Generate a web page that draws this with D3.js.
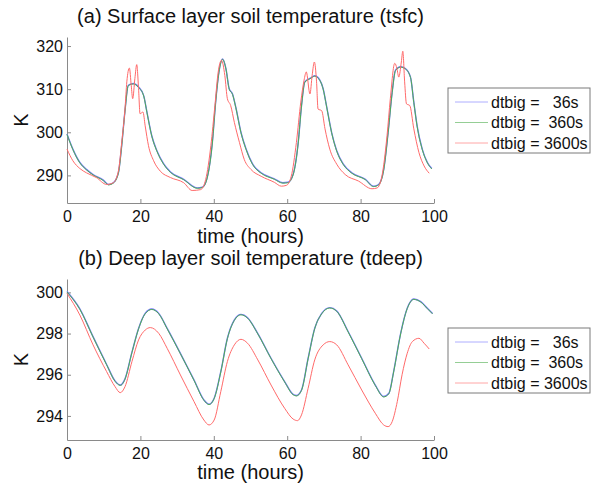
<!DOCTYPE html>
<html>
<head>
<meta charset="utf-8">
<script src="https://cdn.jsdelivr.net/npm/d3@7"></script>
<style>
  body { margin: 0; background: #fff; }
  text { font-family: "Liberation Sans", Arial, sans-serif; fill: #111; }
</style>
</head>
<body>
<script>
// SERIES NAMES (LEGEND)
const seriesNames = ["dtbig =   36s", "dtbig =  360s", "dtbig = 3600s"];
const seriesColors = ["#7878ff", "#4fae4f", "#ff6a6a"];

// TICKS
const xTicks = [0, 20, 40, 60, 80, 100];
const tsfcTicks = [290, 300, 310, 320];
const tdeepTicks = [294, 296, 298, 300];

// (a) SURFACE LAYER - dtbig 36s and 360s lie on top of each other
const tsfcTime36 = [0, 1.6, 3.5, 5.3, 7.1, 9.9, 11.3, 12.6, 14.0, 14.9, 15.8, 16.7, 18.1, 19.5, 20.9, 21.8, 23.1, 24.5, 26.4, 28.2,
  31.8, 35.5, 36.9, 38.2, 39.6, 40.5, 41.4, 42.4, 43.3, 44.2, 45.1, 46.0, 47.4, 48.8, 50.6, 52.9, 56.5, 58.8, 60.2, 61.6,
  63.0, 63.9, 64.8, 66.2, 67.5, 68.9, 69.8, 70.7, 72.1, 73.5, 75.3, 77.6, 81.3, 83.5, 84.9, 86.3, 87.5, 88.6, 89.5, 90.9,
  92.2, 93.6, 94.5, 95.4, 96.8, 98.2, 99.4];
const tsfc36 = [299.6, 296.1, 293.0, 291.4, 290.2, 288.9, 287.9, 288.3, 290.6, 296.9, 305.0, 310.9, 311.3, 310.5, 308.5, 304.6, 299.2, 295.7, 292.6, 290.8,
  289.1, 287.1, 287.3, 289.5, 297.6, 307.0, 314.0, 317.0, 314.8, 310.1, 308.9, 305.8, 300.0, 296.1, 292.6, 290.6, 289.2, 288.3, 288.4, 290.2,
  297.6, 306.2, 311.7, 312.5, 313.1, 312.1, 310.1, 306.2, 300.0, 295.7, 292.6, 290.6, 289.1, 287.5, 287.9, 291.4, 300.0, 309.3, 314.4, 315.2,
  314.8, 312.8, 307.0, 301.5, 296.1, 293.0, 291.6];
const tsfcTime360 = tsfcTime36;
const tsfc360 = tsfc36;

const tsfcTime3600 = [0, 1.6, 3.5, 5.3, 8.0, 10.8, 12.6, 14.0, 14.9, 15.8, 16.3, 17.0, 17.5, 17.9, 18.5, 19.0, 19.5, 19.9, 20.7, 21.3,
  22.2, 23.6, 25.4, 28.2, 31.8, 34.1, 36.4, 37.8, 39.2, 40.3, 41.2, 42.1, 43.0, 43.7, 44.6, 45.6, 47.0, 48.3, 50.1, 52.9,
  56.5, 58.4, 59.8, 61.1, 62.5, 63.7, 64.6, 65.2, 66.2, 66.8, 67.4, 68.0, 68.4, 69.4, 70.3, 71.6, 73.5, 75.8, 79.4, 83.1,
  84.5, 85.8, 87.2, 88.1, 89.3, 89.9, 90.4, 91.1, 91.5, 92.0, 92.5, 93.4, 94.5, 95.9, 97.3, 98.7];
const tsfc3600 = [296.1, 293.4, 291.6, 290.6, 289.5, 287.9, 288.3, 291.0, 297.6, 305.4, 311.7, 314.9, 310.9, 307.8, 312.5, 315.7, 310.1, 304.3, 304.7, 301.5,
  296.9, 293.4, 291.0, 289.5, 288.3, 286.5, 286.7, 289.1, 296.9, 306.2, 314.0, 316.7, 313.2, 307.8, 306.2, 302.3, 297.6, 293.7, 291.4, 289.8,
  288.4, 287.5, 287.7, 289.8, 297.6, 307.0, 312.1, 314.0, 308.9, 313.2, 316.3, 311.7, 305.4, 305.0, 300.8, 296.1, 292.6, 290.2, 288.7, 286.9,
  287.1, 289.8, 299.2, 307.8, 316.0, 314.8, 312.8, 316.3, 318.8, 311.7, 306.6, 306.2, 300.8, 295.3, 292.2, 290.5];

// (b) DEEP LAYER
const tdeepTime36 = [0, 3.5, 7.1, 10.8, 13.1, 14.5, 15.8, 17.7, 19.5, 21.3, 23.1, 25.0, 27.3, 30.9, 34.6, 37.3, 38.7, 40.1, 41.9, 43.7,
  45.6, 47.4, 49.2, 52.0, 55.6, 59.3, 61.6, 62.5, 63.9, 65.7, 67.5, 69.4, 71.6, 73.5, 76.6, 80.3, 84.0, 86.3, 87.7, 89.0,
  90.9, 92.7, 94.5, 96.4, 98.2, 99.6];
const tdeep36 = [300.04, 299.2, 297.85, 296.5, 295.7, 295.5, 295.8, 297.1, 298.25, 298.98, 299.19, 298.98, 298.25, 297.04, 295.75, 294.78, 294.57, 294.86, 296.15, 297.77,
  298.66, 298.93, 298.77, 298.0, 296.8, 295.67, 295.05, 294.99, 295.26, 296.8, 298.26, 298.98, 299.26, 299.1, 298.1, 296.8, 295.5, 294.94, 295.1, 296.15,
  298.0, 299.23, 299.68, 299.55, 299.23, 298.98];
const tdeepTime360 = tdeepTime36;
const tdeep360 = tdeep36;

const tdeepTime3600 = [0, 3.5, 7.1, 10.8, 13.1, 14.5, 15.8, 17.7, 19.5, 21.3, 22.7, 25.0, 27.3, 30.9, 34.6, 37.3, 38.7, 40.1, 41.9, 43.7,
  45.6, 47.4, 49.2, 52.0, 55.6, 59.3, 61.6, 62.8, 63.9, 65.7, 67.5, 69.8, 71.6, 73.5, 76.6, 80.3, 84.0, 86.3, 87.5, 88.6,
  90.0, 91.3, 92.7, 94.1, 95.9, 97.3, 98.7];
const tdeep3600 = [299.95, 298.9, 297.45, 296.15, 295.42, 295.13, 295.42, 296.64, 297.69, 298.17, 298.29, 298.01, 297.28, 295.99, 294.7, 293.8, 293.56, 293.8, 295.18, 296.64,
  297.45, 297.72, 297.53, 296.72, 295.5, 294.37, 293.85, 293.77, 294.05, 295.34, 296.72, 297.45, 297.61, 297.45, 296.48, 295.26, 294.13, 293.56, 293.48, 293.72,
  294.7, 296.0, 297.04, 297.61, 297.77, 297.53, 297.25];

//USEFUL VARIABLES
const svgwidth = 592;
const svgheight = 487;
const plotLeft = 67;
const plotRight = 434;

const zip = (ts, vs) => ts.map((t, i) => ({ t: t, v: vs[i] }));

const panels = [
  {
    title: "(a) Surface layer soil temperature (tsfc)",
    top: 37, bottom: 203, domain: [283.6, 322.1], ticks: tsfcTicks,
    series: [zip(tsfcTime36, tsfc36), zip(tsfcTime360, tsfc360), zip(tsfcTime3600, tsfc3600)],
    titleY: 23, labelY: 243, legendTop: 88
  },
  {
    title: "(b) Deep layer soil temperature (tdeep)",
    top: 279, bottom: 440, domain: [292.83, 300.65], ticks: tdeepTicks,
    series: [zip(tdeepTime36, tdeep36), zip(tdeepTime360, tdeep360), zip(tdeepTime3600, tdeep3600)],
    titleY: 265, labelY: 479, legendTop: 328
  }
];

const svg = d3.select("body").append("svg")
  .attr("width", svgwidth)
  .attr("height", svgheight);

const X = d3.scaleLinear().domain([0, 100]).range([plotLeft, plotRight]);

panels.forEach(p => {
  const Y = d3.scaleLinear().domain(p.domain).range([p.bottom, p.top]);
  const g = svg.append("g");

  //AXES (ticks point inward, no box)
  const xaxis = g.append("g")
    .attr("transform", `translate(0, ${p.bottom})`)
    .call(d3.axisBottom(X).tickValues(xTicks).tickSizeInner(-4).tickSizeOuter(0).tickPadding(8));
  const yaxis = g.append("g")
    .attr("transform", `translate(${plotLeft}, 0)`)
    .call(d3.axisLeft(Y).tickValues(p.ticks).tickSizeInner(-4).tickSizeOuter(0).tickPadding(4));
  [xaxis, yaxis].forEach(a => {
    a.select(".domain").attr("stroke", "#8a8a8a");
    a.selectAll(".tick line").attr("stroke", "#8a8a8a");
    a.selectAll(".tick text").style("font-size", "16px").attr("fill", "#111");
  });

  //LINES
  const line = d3.line().x(d => X(d.t)).y(d => Y(d.v)).curve(d3.curveMonotoneX);
  p.series.forEach((s, i) => {
    g.append("path")
      .datum(s)
      .attr("fill", "none")
      .attr("stroke", seriesColors[i])
      .attr("stroke-width", i === 0 ? 1.4 : 1)
      .attr("transform", i === 1 ? "translate(0,0.4)" : null)
      .attr("d", line);
  });

  //TEXTS
  g.append("text")
    .attr("x", (plotLeft + plotRight) / 2).attr("y", p.titleY)
    .attr("text-anchor", "middle").style("font-size", "20px")
    .text(p.title);
  g.append("text")
    .attr("x", (plotLeft + plotRight) / 2).attr("y", p.labelY)
    .attr("text-anchor", "middle").style("font-size", "20px")
    .text("time (hours)");
  g.append("text")
    .attr("transform", `translate(28, ${(p.top + p.bottom) / 2}) rotate(-90)`)
    .attr("text-anchor", "middle").style("font-size", "20px")
    .text("K");

  //LEGEND
  const legend = g.append("g").attr("transform", `translate(448, ${p.legendTop})`);
  legend.append("rect")
    .attr("width", 142).attr("height", 65)
    .attr("fill", "#fff").attr("stroke", "#7a7a7a");
  seriesNames.forEach((name, i) => {
    const y = 14 + i * 20.5;
    legend.append("line")
      .attr("x1", 7).attr("x2", 40).attr("y1", y).attr("y2", y)
      .attr("stroke", seriesColors[i]).attr("stroke-width", 1).attr("stroke-opacity", 0.6);
    legend.append("text")
      .attr("x", 43).attr("y", y).attr("dy", "0.36em")
      .attr("xml:space", "preserve").style("white-space", "pre")
      .style("font-size", "16px")
      .text(name);
  });
});
</script>
</body>
</html>
